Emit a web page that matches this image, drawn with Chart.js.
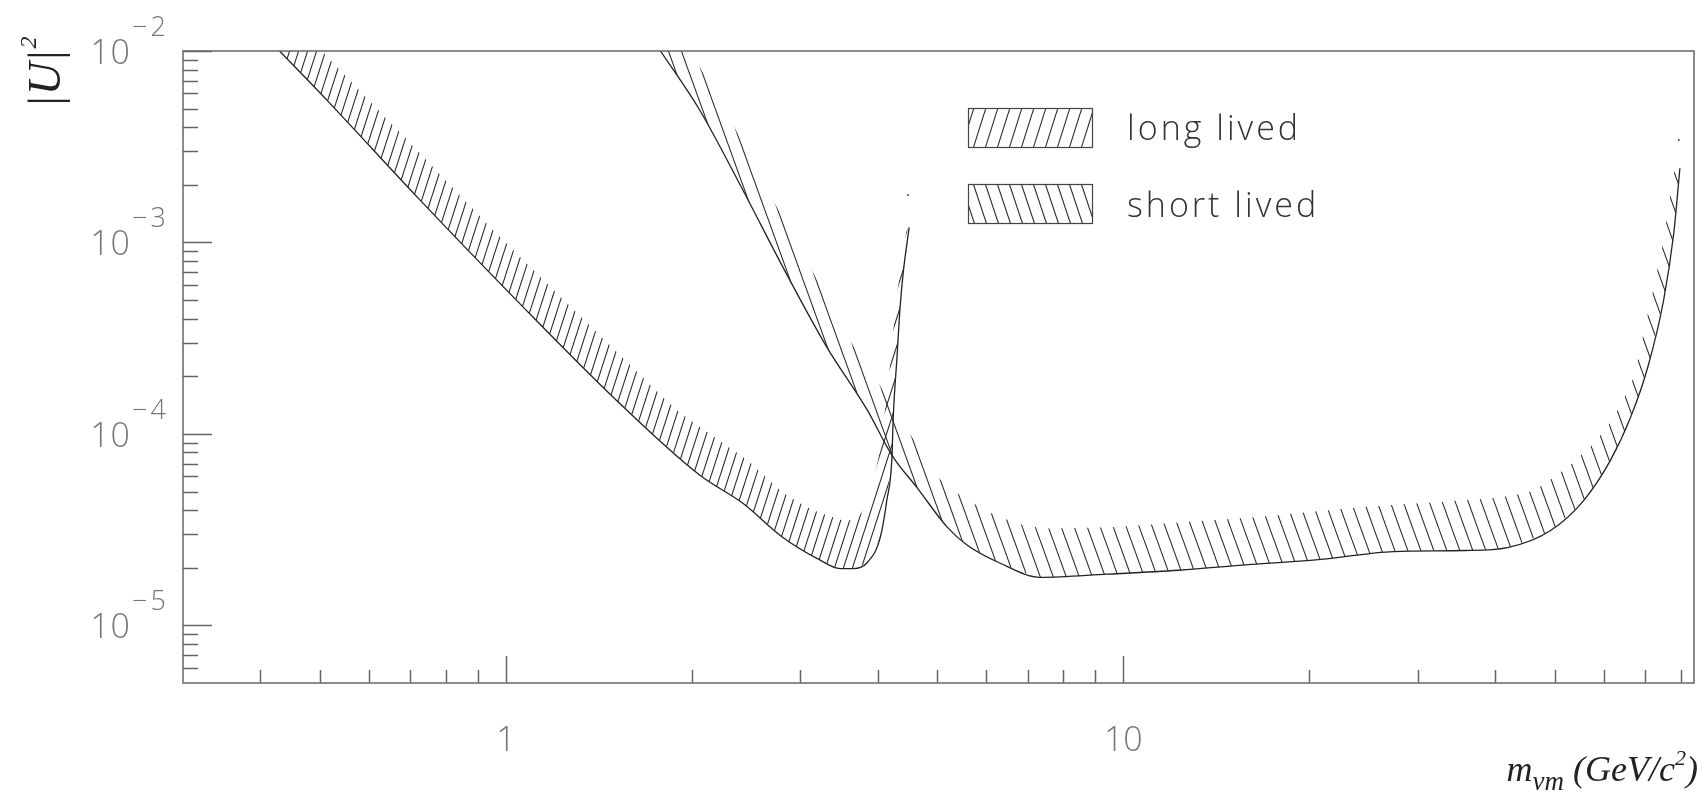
<!DOCTYPE html>
<html>
<head>
<meta charset="utf-8">
<script src="https://cdn.jsdelivr.net/npm/chart.js@4/dist/chart.umd.min.js"></script>
<style>
  html, body { margin: 0; padding: 0; background: #fff; }
  canvas { display: block; }
</style>
</head>
<body>
<canvas id="limits" width="1706" height="792"></canvas>
<script>
// long lived: lower edge of the excluded region and top of its hatched band
const longLowerX = [0.43, 0.513, 0.718, 1.04, 1.51, 2.06, 2.42, 2.81, 3.19, 3.48, 3.65, 3.85, 4.04, 4.14, 4.22, 4.24, 4.30, 4.35, 4.40, 4.50];
const longLowerY = [1.0e-2, 5.54e-3, 1.73e-3, 5.0e-4, 1.5e-4, 6.1e-5, 4.34e-5, 2.88e-5, 2.24e-5, 1.98e-5, 1.98e-5, 2.13e-5, 2.88e-5, 4.5e-5, 7.55e-5, 1.22e-4, 2.51e-4, 4.59e-4, 6.9e-4, 1.2e-3];
const longUpperX = [0.503, 0.673, 0.978, 1.52, 1.91, 2.46, 2.81, 3.15, 3.52, 3.71, 3.86, 4.02, 4.16, 4.29, 4.45];
const longUpperY = [1.0e-2, 3.77e-3, 1.07e-3, 2.64e-4, 1.30e-4, 7.28e-5, 4.95e-5, 3.99e-5, 3.53e-5, 3.62e-5, 4.5e-5, 7.73e-5, 1.79e-4, 4.99e-4, 1.13e-3];

// short lived
const shortLowerX = [1.78, 2.06, 2.42, 2.81, 3.31, 3.85, 4.22, 4.63, 5.19, 5.59, 6.32, 7.34, 9.42, 12.3, 16.1, 20.9, 27.4, 35.7, 41.9, 49.2, 55.7, 61.5, 66.3, 70.7, 75.0, 77.9, 79.7];
const shortLowerY = [1.0e-2, 4.92e-3, 1.88e-3, 7.43e-4, 2.84e-4, 1.33e-4, 7.73e-5, 5.26e-5, 3.25e-5, 2.62e-5, 2.11e-5, 1.78e-5, 1.85e-5, 1.94e-5, 2.08e-5, 2.21e-5, 2.43e-5, 2.46e-5, 2.55e-5, 3.13e-5, 4.5e-5, 7.27e-5, 1.22e-4, 2.23e-4, 4.99e-4, 1.12e-3, 2.44e-3];
const shortUpperX = [1.99, 2.31, 2.68, 3.13, 3.58, 4.01, 4.48, 5.01, 5.44, 6.09, 6.81, 7.47, 9.42, 12.3, 16.1, 24.0, 35.7, 40.8, 46.2, 52.4, 57.8, 62.3, 67.1, 69.6, 72.3, 75.0, 76.4, 78.5];
const shortUpperY = [1.0e-2, 4.36e-3, 1.77e-3, 7.16e-4, 3.20e-4, 1.84e-4, 1.04e-4, 5.93e-5, 4.78e-5, 3.88e-5, 3.37e-5, 3.21e-5, 3.25e-5, 3.45e-5, 3.66e-5, 4.13e-5, 4.5e-5, 4.67e-5, 5.07e-5, 6.69e-5, 8.93e-5, 1.22e-4, 1.98e-4, 3.36e-4, 5.84e-4, 1.03e-3, 1.53e-3, 2.54e-3];

// stray end marks left by the plotter
const strayX = [4.48, 79.4];
const strayY = [1.77e-3, 3.43e-3];

// axes
const xMajorTicks = [1, 10];
const xTickLabels = ['1', '10'];
const xMinorTicks = [0.4, 0.5, 0.6, 0.7, 0.8, 0.9, 2, 3, 4, 5, 6, 7, 8, 9, 20, 30, 40, 50, 60, 70, 80];
const yMajorTicks = [1e-5, 1e-4, 1e-3, 1e-2];
const yTickExponents = ['\u22125', '\u22124', '\u22123', '\u22122'];
const yMinorTicks = [6e-6, 7e-6, 8e-6, 9e-6].concat(
  ...[-5, -4, -3].map((e) => [2, 3, 4, 5, 6, 7, 8, 9].map((m) => m * 10 ** e))
);
const legendLabels = ['long lived', 'short lived'];

const toPoints = (xs, ys) => xs.map((x, i) => ({ x, y: ys[i] }));
// closed outline: lower edge left to right, band top back right to left
const band = (lx, ly, ux, uy) => toPoints(lx, ly).concat(toPoints(ux, uy).reverse());

const canvas = document.getElementById('limits');
const ctx = canvas.getContext('2d');

const makeHatch = (w, h, dir) => {
  const tile = document.createElement('canvas');
  tile.width = w;
  tile.height = h;
  const g = tile.getContext('2d');
  g.strokeStyle = '#2a2a2a';
  g.lineWidth = 1.1;
  g.beginPath();
  for (let k = -1; k <= 1; k++) {
    if (dir === '/') {
      g.moveTo(k * w, h);
      g.lineTo((k + 1) * w, 0);
    } else {
      g.moveTo(k * w, 0);
      g.lineTo((k + 1) * w, h);
    }
  }
  g.stroke();
  return ctx.createPattern(tile, 'repeat');
};

const longHatch = makeHatch(9, 28, '/');
const shortHatch = makeHatch(13, 36, '\\');
const longLegendHatch = makeHatch(12, 38, '/');
const shortLegendHatch = makeHatch(12, 36, '\\');

const INK = '#222';
const AXIS = '#666';
const LABEL = '#777';

const decorations = {
  id: 'decorations',
  afterDraw(chart) {
    const c = chart.ctx;
    const { left, right, top, bottom } = chart.chartArea;
    const xs = chart.scales.x;
    const ys = chart.scales.y;

    c.save();
    // frame
    c.strokeStyle = AXIS;
    c.lineWidth = 1.5;
    c.strokeRect(left, top, right - left, bottom - top);

    // ticks pointing into the frame
    c.beginPath();
    xMinorTicks.forEach((v) => {
      const px = Math.round(xs.getPixelForValue(v)) + 0.5;
      c.moveTo(px, bottom);
      c.lineTo(px, bottom - 13);
    });
    xMajorTicks.forEach((v) => {
      const px = Math.round(xs.getPixelForValue(v)) + 0.5;
      c.moveTo(px, bottom);
      c.lineTo(px, bottom - 27);
    });
    yMinorTicks.forEach((v) => {
      const py = Math.round(ys.getPixelForValue(v)) + 0.5;
      c.moveTo(left, py);
      c.lineTo(left + 15, py);
    });
    yMajorTicks.forEach((v) => {
      const py = Math.round(ys.getPixelForValue(v)) + 0.5;
      c.moveTo(left, py);
      c.lineTo(left + 29, py);
    });
    c.stroke();

    // tick labels
    c.fillStyle = LABEL;
    c.textBaseline = 'alphabetic';
    yMajorTicks.forEach((v, i) => {
      const py = ys.getPixelForValue(v);
      c.font = '300 34px "Open Sans"';
      c.textAlign = 'right';
      c.letterSpacing = '1px';
      c.fillText('10', 131, py + 13);
      c.font = '300 27px "Open Sans"';
      c.textAlign = 'left';
      c.letterSpacing = '3px';
      c.fillText(yTickExponents[i], 132, py - 15);
      c.letterSpacing = '0px';
    });
    c.font = '300 34px "Open Sans"';
    c.textAlign = 'center';
    xMajorTicks.forEach((v, i) => {
      c.fillText(xTickLabels[i], xs.getPixelForValue(v), 751);
    });

    // x title: m_vm (GeV/c^2)
    const parts = [
      { t: 'm', f: 'italic 36px "Liberation Serif"', dy: 0 },
      { t: '\u03bdm', f: 'italic 27px "Liberation Serif"', dy: 9 },
      { t: ' (GeV/c', f: 'italic 36px "Liberation Serif"', dy: 0 },
      { t: '2', f: 'italic 22px "Liberation Serif"', dy: -16 },
      { t: ')', f: 'italic 36px "Liberation Serif"', dy: 0 }
    ];
    c.fillStyle = INK;
    c.textAlign = 'left';
    let total = 0;
    parts.forEach((p) => {
      c.font = p.f;
      p.w = c.measureText(p.t).width;
      total += p.w;
    });
    let tx = 1698 - total;
    parts.forEach((p) => {
      c.font = p.f;
      c.fillText(p.t, tx, 781 + p.dy);
      tx += p.w;
    });

    // y title: |U|^2, read bottom to top
    c.save();
    c.translate(60, 108);
    c.rotate(-Math.PI / 2);
    c.font = 'italic 46px "Liberation Serif"';
    c.fillText('|U|', 0, 0);
    const uw = c.measureText('|U|').width;
    c.font = 'italic 24px "Liberation Serif"';
    c.fillText('2', uw + 1, -24);
    c.restore();

    // legend
    const boxes = [
      { x: 968, y: 108, fill: longLegendHatch, text: legendLabels[0], ty: 140 },
      { x: 968, y: 184, fill: shortLegendHatch, text: legendLabels[1], ty: 217 }
    ];
    boxes.forEach((b) => {
      c.fillStyle = b.fill;
      c.fillRect(b.x, b.y, 124, 39);
      c.strokeStyle = '#444';
      c.lineWidth = 1.2;
      c.strokeRect(b.x + 0.5, b.y + 0.5, 124, 39);
      c.fillStyle = '#333';
      c.font = '300 34px "Open Sans"';
      c.letterSpacing = '3px';
      c.fillText(b.text, 1127, b.ty);
      c.letterSpacing = '0px';
    });
    c.restore();
  }
};

const chart = new Chart(ctx, {
  type: 'scatter',
  data: {
    datasets: [
      {
        label: 'long lived band',
        data: band(longLowerX, longLowerY, longUpperX, longUpperY),
        showLine: true,
        fill: 'shape',
        backgroundColor: longHatch,
        borderColor: 'rgba(0,0,0,0)',
        borderWidth: 0,
        pointRadius: 0,
        tension: 0.15
      },
      {
        label: 'long lived',
        data: toPoints(longLowerX, longLowerY),
        showLine: true,
        fill: false,
        borderColor: INK,
        borderWidth: 1.3,
        pointRadius: 0,
        cubicInterpolationMode: 'monotone'
      },
      {
        label: 'short lived band',
        data: band(shortLowerX, shortLowerY, shortUpperX, shortUpperY),
        showLine: true,
        fill: 'shape',
        backgroundColor: shortHatch,
        borderColor: 'rgba(0,0,0,0)',
        borderWidth: 0,
        pointRadius: 0,
        tension: 0.15
      },
      {
        label: 'short lived',
        data: toPoints(shortLowerX, shortLowerY),
        showLine: true,
        fill: false,
        borderColor: INK,
        borderWidth: 1.3,
        pointRadius: 0,
        cubicInterpolationMode: 'monotone'
      },
      {
        label: 'stray',
        data: toPoints(strayX, strayY),
        showLine: false,
        pointRadius: 1,
        pointBorderWidth: 0,
        backgroundColor: '#444'
      }
    ]
  },
  options: {
    responsive: false,
    devicePixelRatio: 1,
    animation: false,
    events: [],
    layout: {
      padding: { left: 183, top: 51, right: 12, bottom: 109 }
    },
    plugins: {
      legend: { display: false },
      tooltip: { enabled: false }
    },
    scales: {
      x: { type: 'logarithmic', min: 0.3, max: 84, display: false },
      y: { type: 'logarithmic', min: 5e-6, max: 1e-2, display: false }
    }
  },
  plugins: [decorations]
});
</script>
</body>
</html>
